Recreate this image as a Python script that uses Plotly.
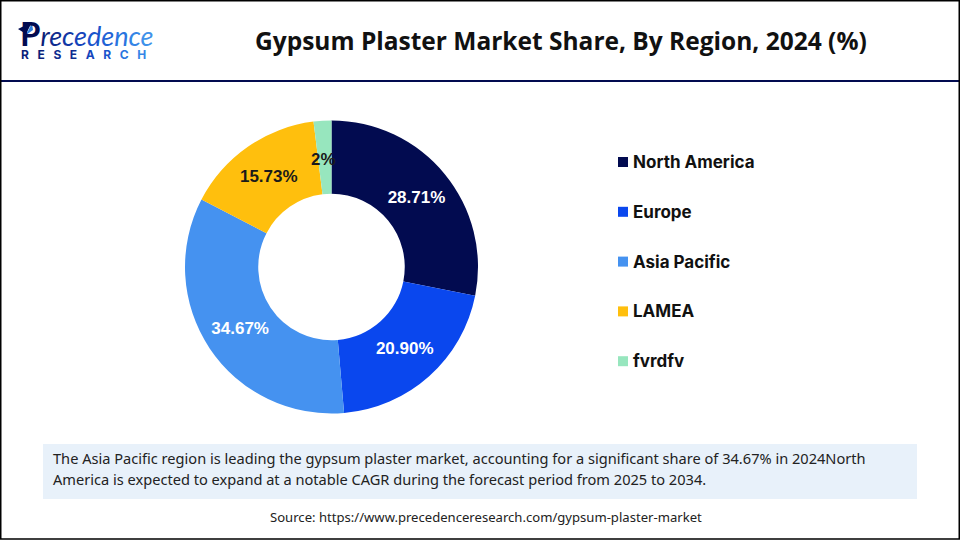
import plotly.graph_objects as go

regions = ['North America', 'Europe', 'Asia Pacific', 'LAMEA', 'fvrdfv']
shares = [28.71, 20.90, 34.67, 15.73, 2]
share_labels = ['28.71%', '20.90%', '34.67%', '15.73%', '2%']
colors = ['#020B50', '#0A47EE', '#4592F0', '#FFBF0D', '#97E6BE']
label_colors = ['#FFFFFF', '#FFFFFF', '#FFFFFF', '#1A1A1A', '#1A1A1A']

title_text = 'Gypsum Plaster Market Share, By Region, 2024 (%)'
note_lines = ['The Asia Pacific region is leading the gypsum plaster market, accounting for a significant share of 34.67% in 2024North',
              'America is expected to expand at a notable CAGR during the forecast period from 2025 to 2034.']
source_text = 'Source: https://www.precedenceresearch.com/gypsum-plaster-market'

logo_letters = ['r', 'e', 'c', 'e', 'd', 'e', 'n', 'c', 'e']
logo_colors = ['#0B1F7A', '#0F2C8F', '#1238A5', '#1545BB', '#1A55CC', '#1F63D6', '#2A75E0', '#3585E6', '#3F92EA']
research_letters = ['R', 'E', 'S', 'E', 'A', 'R', 'C', 'H']
research_colors = ['#0B1F7A', '#0B1F7A', '#0F2C8F', '#0F2C8F', '#1545BB', '#1A55CC', '#2A75E0', '#3585E6']

W = 960
H = 540


def px(x):
    return x / W


def py(y):
    return 1 - y / H


def rect(x0, y0, x1, y1, **kw):
    return dict(type='rect', xref='paper', yref='paper', x0=px(x0), x1=px(x1), y0=py(y1), y1=py(y0), **kw)


def label(x, y, text, size, color, family='Inter', anchor='left', bold=False):
    if bold:
        text = '<b>' + text + '</b>'
    return dict(xref='paper', yref='paper', x=px(x), y=py(y), text=text, showarrow=False,
                xanchor=anchor, yanchor='middle', align=anchor, borderpad=0,
                font=dict(size=size, color=color, family=family))


# the last slice is too thin for plotly to keep its label mid-ring, so that one is an annotation
fig = go.Figure()
fig.add_trace(go.Pie(
    labels=regions,
    values=shares,
    text=share_labels[:-1] + [''],
    textinfo='text',
    hole=0.5,
    sort=False,
    direction='clockwise',
    rotation=0,
    domain=dict(x=[px(185), px(478)], y=[py(413.5), py(120.5)]),
    marker=dict(colors=colors, line=dict(width=0)),
    textposition='inside',
    insidetextorientation='horizontal',
    insidetextfont=dict(size=17, color=label_colors, family='Liberation Sans', weight='bold'),
    showlegend=False,
))

shapes = [
    rect(43, 444, 917, 499, fillcolor='#E8F1FA', line_width=0, layer='below'),
    dict(type='line', xref='paper', yref='paper', x0=0, x1=1, y0=py(81), y1=py(81),
         line=dict(color='#020B50', width=2)),
    rect(0.75, 0.75, 959.25, 539, fillcolor='rgba(0,0,0,0)', line=dict(color='#000000', width=1.5)),
]

annotations = [
    label(561, 40.5, title_text, 24.5, '#111111', family='Open Sans', anchor='center', bold=True),
    label(52, 458, note_lines[0], 14.6, '#222222', family='Noto Sans'),
    label(52, 479, note_lines[1], 14.6, '#222222', family='Noto Sans'),
    label(486.5, 517, source_text, 13.1, '#222222', family='Noto Sans', anchor='center'),
    label(323, 159.5, share_labels[-1], 17, label_colors[-1], family='Liberation Sans', anchor='center', bold=True),
]

# legend is laid out by hand, the gaps are wider than plotly's own legend allows
for i, region in enumerate(regions):
    row_y = 162 + i * 49.8
    shapes.append(rect(618, row_y - 5, 628, row_y + 5, fillcolor=colors[i], line_width=0))
    annotations.append(label(632, row_y, region, 17, '#111111', bold=True))

# logo
logo_word = ''.join('<span style="color:%s">%s</span>' % (c, l) for l, c in zip(logo_letters, logo_colors))
logo_cap = '<span style="font-size:33px;font-weight:bold;color:#020B50">P</span>'
annotations.append(label(19, 33, logo_cap + '<i>' + logo_word + '</i>', 27, '#0B1F7A', family='Lato'))
research_word = ''.join('<span style="color:%s">%s</span>' % (c, l) for l, c in zip(research_letters, research_colors))
annotations.append(label(20, 54.5, '<span style="letter-spacing:8.6px">' + research_word + '</span>', 12, '#0B1F7A', bold=True))
shapes.append(dict(type='path', xref='paper', yref='paper',
                   path='M %f %f L %f %f L %f %f Z' % (px(18), py(29), px(32), py(22), px(26), py(34)),
                   fillcolor='#020B50', line_width=0))
shapes.append(dict(type='path', xref='paper', yref='paper',
                   path='M %f %f L %f %f L %f %f Z' % (px(26), py(35), px(32), py(23), px(33), py(30)),
                   fillcolor='#2F7FE0', line_width=0))

fig.update_layout(
    width=W,
    height=H,
    margin=dict(l=0, r=0, t=0, b=0),
    paper_bgcolor='#FFFFFF',
    plot_bgcolor='#FFFFFF',
    shapes=shapes,
    annotations=annotations,
    uniformtext=dict(mode='show', minsize=17),
)

fig.write_html('out.html', config=dict(displayModeBar=False), post_script="document.body.style.margin='0';")
